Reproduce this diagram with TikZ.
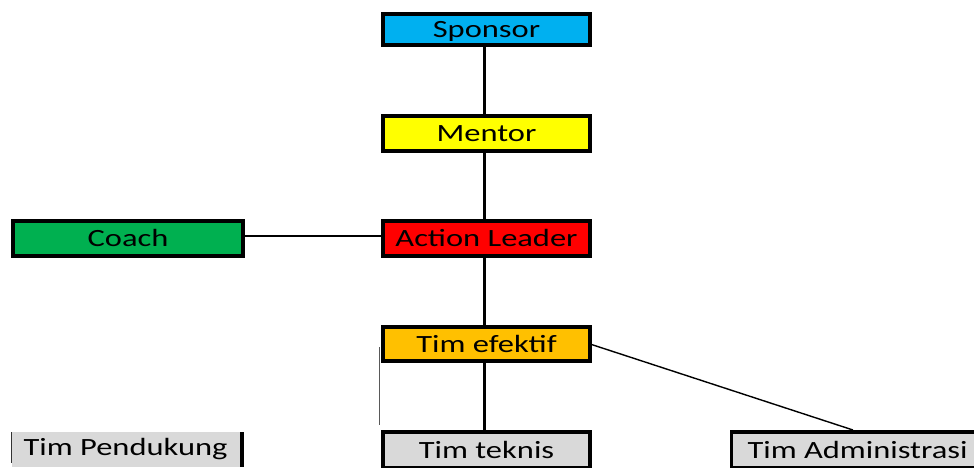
\documentclass[tikz,border=0pt]{standalone}
\usepackage{fontspec}
\setmainfont{Carlito}[FakeStretch=1.31]
\definecolor{cSponsor}{HTML}{00B0F0}
\definecolor{cMentor}{HTML}{FFFF00}
\definecolor{cCoach}{HTML}{00B050}
\definecolor{cLeader}{HTML}{FF0000}
\definecolor{cTim}{HTML}{FFC000}
\definecolor{cGrey}{HTML}{D9D9D9}
\tikzset{
  lbl/.style={font=\fontsize{24.8}{27}\selectfont, text height=16pt, text depth=0pt},
  box/.style={lbl, draw=black, line width=4pt, inner sep=0pt, outer sep=0pt},
  link/.style={draw=black, line width=3pt},
  thinlink/.style={draw=black, line width=1.4pt},
}
\begin{document}
\begin{tikzpicture}[x=1pt,y=-1pt]
\useasboundingbox (0,0) rectangle (974,467);
\coordinate (lx) at (484,0);
\coordinate (cl) at (0,236);
\node[box, fill=cSponsor, minimum width=207pt, minimum height=31pt] (sp) at (486.5,29.5) {Sponsor};
\node[box, fill=cMentor, minimum width=207pt, minimum height=35pt] (me) at (486.5,133.5) {Mentor};
\node[box, fill=cLeader, minimum width=207pt, minimum height=35pt] (al) at (486.5,238.5) {Action Leader};
\node[box, fill=cCoach, minimum width=230pt, minimum height=35pt] (co) at (128,238.5) {Coach};
\node[box, fill=cTim, minimum width=207pt, minimum height=34pt] (te) at (486.5,344) {Tim efektif};
\node[box, fill=cGrey, minimum width=207pt, minimum height=36pt] (tt) at (486.5,450) {Tim teknis};
\node[box, fill=cGrey, line width=3.5pt, minimum width=252pt, minimum height=36pt] (ad) at (857.5,450) {Tim Administrasi};
% Tim Pendukung (partially bordered)
\fill[cGrey] (12,432) rectangle (240,467);
\node[lbl, inner sep=0pt] (tp) at (125.5,447.5) {Tim Pendukung};
\coordinate (tpa) at (11.5,432);
\coordinate (tpb) at (11.5,463);
\coordinate (tpc) at (241.5,432);
\coordinate (tpd) at (241.5,467);
\draw[line width=1.2pt, black!80] (tpa) -- (tpb);
\draw[line width=4pt] (tpc) -- (tpd);
% connectors
\draw[link] (sp.south -| lx) -- (me.north -| lx);
\draw[link] (me.south -| lx) -- (al.north -| lx);
\draw[link] (al.south -| lx) -- (te.north -| lx);
\draw[link] (te.south -| lx) -- (tt.north -| lx);
\draw[thinlink] (co.east |- cl) -- (al.west |- cl);
\coordinate (adn) at (853,430);
\draw[thinlink] (te.east) -- (adn);
% thin grey vertical line
\coordinate (ga) at (379,347);
\coordinate (gb) at (379,425);
\draw[line width=1pt, black!65] (ga) -- (gb);
\end{tikzpicture}
\end{document}
